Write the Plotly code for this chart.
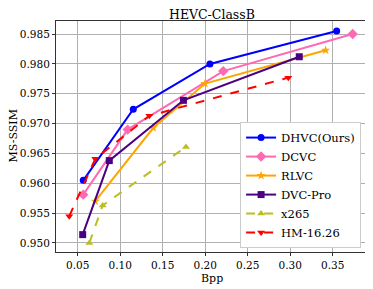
import plotly.graph_objects as go

dhvc_x = [0.0566, 0.1154, 0.2056, 0.3547]
dhvc_y = [0.9605, 0.9724, 0.9800, 0.9855]
dcvc_x = [0.0566, 0.1088, 0.2213, 0.3735]
dcvc_y = [0.9581, 0.9690, 0.9788, 0.9850]
rlvc_x = [0.0707, 0.1390, 0.1998, 0.3418]
rlvc_y = [0.9570, 0.9693, 0.9767, 0.9823]
dvcpro_x = [0.0559, 0.0872, 0.1744, 0.3107]
dvcpro_y = [0.9514, 0.9638, 0.9739, 0.9812]
x265_x = [0.0637, 0.0794, 0.1774]
x265_y = [0.9500, 0.9563, 0.9661]
hm_x = [0.0401, 0.0707, 0.1343, 0.2978]
hm_y = [0.9545, 0.9641, 0.9713, 0.9777]

series = [
    ("DHVC(Ours)", dhvc_x, dhvc_y, "#0000FF", "circle", "solid", 7),
    ("DCVC", dcvc_x, dcvc_y, "#FF69B4", "diamond", "solid", 8),
    ("RLVC", rlvc_x, rlvc_y, "#FFA500", "star", "solid", 7),
    ("DVC-Pro", dvcpro_x, dvcpro_y, "#4B0082", "square", "solid", 7),
    ("x265", x265_x, x265_y, "#BCBD22", "triangle-up", "dash", 7),
    ("HM-16.26", hm_x, hm_y, "#FF0000", "triangle-down", "dash", 7),
]

fig = go.Figure()
for name, xs, ys, c, sym, dash, ms in series:
    fig.add_trace(go.Scatter(x=xs, y=ys, name=name, mode="lines+markers",
                             line=dict(color=c, width=2, dash=dash),
                             marker=dict(color=c, symbol=sym, size=ms)))

font = "DejaVu Serif"
fig.update_layout(
    width=365, height=281,
    margin=dict(l=48, r=6, t=13, b=37, autoexpand=False),
    paper_bgcolor="white", plot_bgcolor="white",
    font=dict(family=font, size=10.5, color="black"),
    showlegend=True,
    legend=dict(x=0.981, y=0.017, xanchor="right", yanchor="bottom",
                bgcolor="white", bordercolor="#cccccc", borderwidth=1,
                font=dict(family=font, size=11.5), tracegroupgap=0,
                itemwidth=30),
    annotations=[
        dict(text="HEVC-ClassB", xref="paper", yref="paper", x=0.5, y=1, yshift=6.5,
             xanchor="center", yanchor="middle", showarrow=False, borderpad=0,
             font=dict(family=font, size=12.5)),
        dict(text="Bpp", xref="paper", yref="paper", x=0.5, y=0, yshift=-18,
             xanchor="center", yanchor="top", showarrow=False,
             font=dict(family=font, size=11)),
        dict(text="MS-SSIM", xref="paper", yref="paper", x=0, y=0.5, xshift=-43,
             xanchor="center", yanchor="middle", textangle=-90, showarrow=False,
             font=dict(family=font, size=11)),
    ],
)
fig.update_xaxes(range=[0.0245, 0.3904], tickvals=[0.05, 0.10, 0.15, 0.20, 0.25, 0.30, 0.35],
                 ticktext=["0.05", "0.10", "0.15", "0.20", "0.25", "0.30", "0.35"],
                 showgrid=True, gridcolor="#b0b0b0", gridwidth=1,
                 showline=True, linecolor="#333333", linewidth=1, mirror=True,
                 ticks="outside", ticklen=3, tickcolor="#333333",
                 automargin=False, zeroline=False)
fig.update_yaxes(range=[0.94849, 0.98719], tickvals=[0.950, 0.955, 0.960, 0.965, 0.970, 0.975, 0.980, 0.985],
                 ticktext=["0.950", "0.955", "0.960", "0.965", "0.970", "0.975", "0.980", "0.985"],
                 showgrid=True, gridcolor="#b0b0b0", gridwidth=1,
                 showline=True, linecolor="#333333", linewidth=1, mirror=True,
                 ticks="outside", ticklen=3, tickcolor="#333333",
                 automargin=False, zeroline=False)
fig.write_html("out.html")
